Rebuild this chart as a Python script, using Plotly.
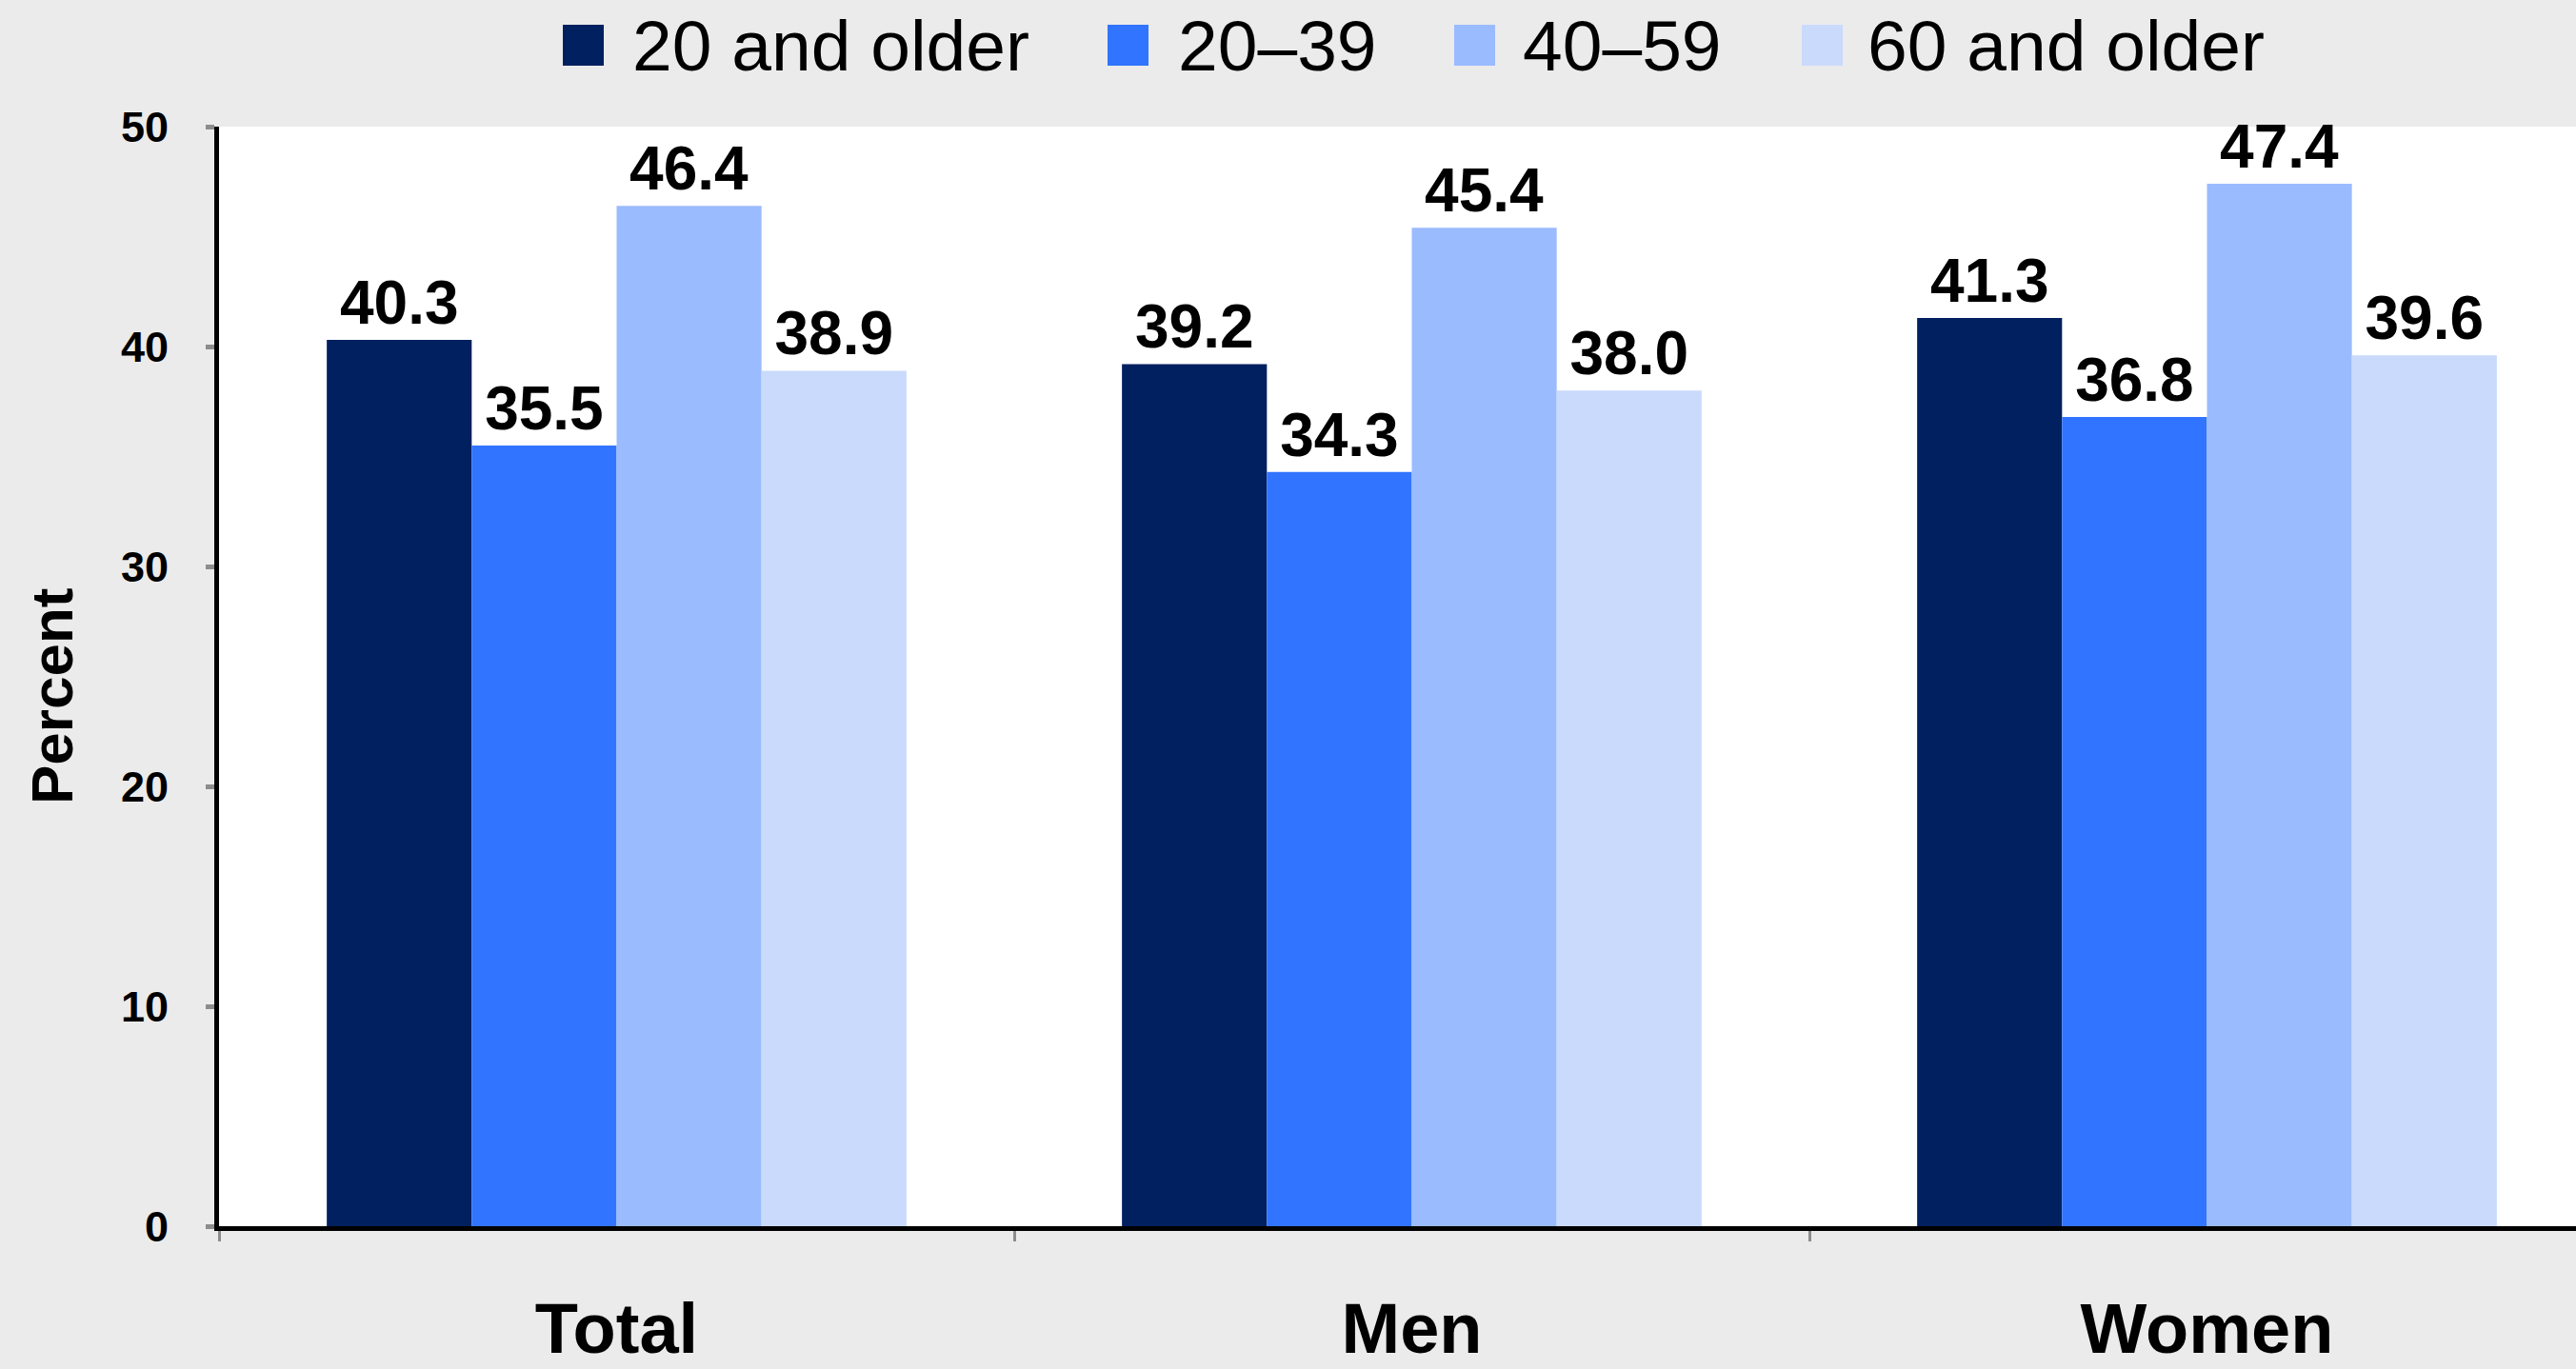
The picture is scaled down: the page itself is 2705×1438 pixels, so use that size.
import plotly.graph_objects as go

# ---- data ----
categories = ["Total", "Men", "Women"]
series_names = ["20 and older", "20\u201339", "40\u201359", "60 and older"]
values_20_older = [40.3, 39.2, 41.3]
values_20_39 = [35.5, 34.3, 36.8]
values_40_59 = [46.4, 45.4, 47.4]
values_60_older = [38.9, 38.0, 39.6]
y_ticks = [0, 10, 20, 30, 40, 50]
y_title = "Percent"

series_values = [values_20_older, values_20_39, values_40_59, values_60_older]
colors = ["#012060", "#3174FF", "#9BBBFF", "#C9DAFC"]

FONT = "Liberation Sans, Arial, Helvetica, sans-serif"
W, H = 2705, 1438
ML, MR, MT, MB = 230, 0, 133, 150
PW, PH = W - ML - MR, H - MT - MB

fig = go.Figure()
for name, vals, col in zip(series_names, series_values, colors):
    fig.add_trace(go.Bar(
        x=categories, y=vals, name=name,
        marker=dict(color=col, line=dict(width=0)),
        text=[f"{v:.1f}" for v in vals],
        textposition="outside",
        textfont=dict(family=FONT, size=64, color="black", weight="bold"),
        constraintext="none",
        cliponaxis=False,
        showlegend=False,
    ))

# helpers: pixel -> paper coordinates
def px_x(px):
    return (px - ML) / PW

def px_y(py):
    return (H - MB - py) / PH

# manual legend with large swatches
swatch_left = [591, 1163, 1527, 1892]
text_left = [665, 1238, 1600, 1962]
for name, col, sl, tl in zip(series_names, colors, swatch_left, text_left):
    fig.add_shape(type="rect", xref="paper", yref="paper",
                  x0=px_x(sl), x1=px_x(sl + 43), y0=px_y(69), y1=px_y(26),
                  fillcolor=col, line=dict(width=0), layer="above")
    fig.add_annotation(xref="paper", yref="paper", x=px_x(tl - 3), y=px_y(48),
                       xanchor="left", yanchor="middle", showarrow=False,
                       text=name, font=dict(family=FONT, size=75, color="black"))

# y-axis title
fig.add_annotation(xref="paper", yref="paper", x=px_x(54), y=px_y(732),
                   xanchor="center", yanchor="middle", showarrow=False, textangle=-90,
                   text=y_title, font=dict(family=FONT, size=62, color="black", weight="bold"))

fig.update_layout(
    width=W, height=H,
    margin=dict(l=ML, r=MR, t=MT, b=MB, pad=0, autoexpand=False),
    paper_bgcolor="#EBEBEB",
    plot_bgcolor="#FFFFFF",
    barmode="group",
    bargap=0.271,
    bargroupgap=0,
    showlegend=False,
    font=dict(family=FONT, color="black"),
)
fig.update_xaxes(
    type="category",
    automargin=False,
    range=[-0.5, -0.5 + PW / 835.0],
    showline=True, linecolor="black", linewidth=5,
    ticks="outside", tickson="boundaries", ticklen=11, tickwidth=3, tickcolor="#8C8C8C",
    tickfont=dict(family=FONT, size=74, color="black", weight="bold"),
    ticklabelstandoff=39,
    showgrid=False, zeroline=False,
)
fig.update_yaxes(
    automargin=False,
    range=[0, 50], tickvals=y_ticks,
    showline=True, linecolor="black", linewidth=5,
    ticks="outside", ticklen=9, tickwidth=5, tickcolor="#8C8C8C",
    tickfont=dict(family=FONT, size=45, color="black", weight="bold"),
    ticklabelstandoff=30,
    showgrid=False, zeroline=False,
)

fig.write_html("out.html")
